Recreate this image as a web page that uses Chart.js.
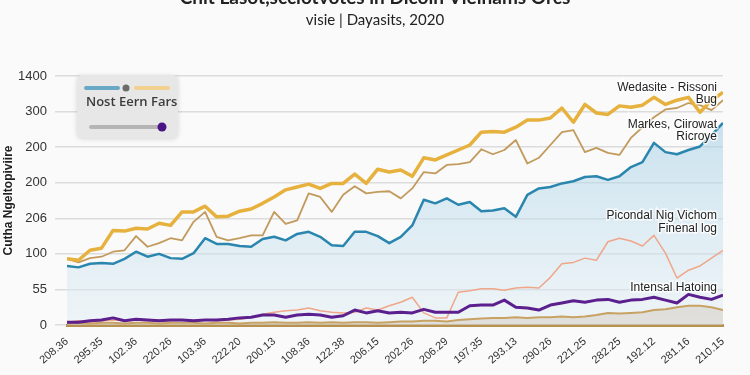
<!DOCTYPE html>
<html><head><meta charset="utf-8">
<script src="https://cdn.jsdelivr.net/npm/chart.js@4.4.1/dist/chart.umd.min.js"></script>
<style>html,body{margin:0;padding:0;background:#fafafa;}canvas{display:block;}</style>
</head><body>
<canvas id="c" width="750" height="375"></canvas>
<script>
const titleText = 'Chit Lasot,scciotvotes in Dicoin Vieinams Orcs';
const subtitleText = 'visie | Dayasits, 2020';
const yAxisTitle = 'Cutha Ngeltopiviire';
const legendText = 'Nost Eern Fars';
const xTickLabels = ['208.36','295.35','102.36','220.26','103.36','222.20','200.13','108.36','122.38','206.15',
                     '202.26','206.29','197.35','293.13','290.26','221.25','282.25','192.12','281.16','210.15'];
const yTickLabels = ['0','55','100','206','200','200','300','1400'];

const websiteBug = [93,91,105,108,133,132,136,135,143,140,159,159,167,152,153,160,163,171,180,190,194,198,192,199,199,212,199,219,215,218,209,235,232,239,246,253,271,272,271,278,288,288,291,305,285,310,298,296,308,306,309,320,310,316,320,299,316,327];
const marketsGrowth = [93,88,94,96,103,105,125,110,115,122,119,145,159,124,119,122,126,126,159,142,147,185,180,159,183,195,185,187,188,178,192,215,213,225,226,229,247,240,246,260,227,235,253,271,274,243,249,242,239,263,278,292,303,305,312,309,302,316];
const blueSeries = [83,81,86,87,86,93,103,96,100,94,93,101,122,114,114,111,110,121,124,119,128,131,124,112,111,131,131,125,115,124,140,176,171,178,169,173,160,161,164,152,183,192,194,199,202,208,209,204,209,222,229,256,243,240,246,251,267,284];
const financialLog = [4,6,4,6,7,6,7,6,7,6,7,6,7,6,7,8,11,15,18,20,21,24,20,18,17,18,24,21,27,32,39,17,10,10,46,48,51,51,49,52,53,52,67,86,88,94,91,117,122,118,111,126,101,66,77,83,94,105];
const internalHatoing = [4,4,6,7,10,6,8,7,6,7,7,6,7,7,8,10,11,14,14,11,14,15,14,11,13,21,17,20,17,18,17,22,18,18,18,27,28,28,35,25,24,21,28,31,34,32,35,36,32,35,36,39,35,31,43,39,36,42];
const baseSeries = [2,3,2,3,3,2,3,3,2,3,3,3,2,3,3,2,3,3,4,3,3,4,3,4,3,4,4,3,4,5,5,6,6,5,7,8,9,10,10,11,10,11,11,12,11,12,14,17,16,17,18,21,22,25,27,27,25,21];

const annotations = [
  {lines: ['Wedasite - Rissoni', 'Bug'], value: 334},
  {lines: ['Markes, Ciirowat', 'Ricroye'], value: 282},
  {lines: ['Picondal Nig Vichom', 'Finenal log'], value: 153},
  {lines: ['Intensal Hatoing'], value: 53}
];

const toPts = arr => arr.map((v, i) => ({x: i, y: v}));

const overlay = {
  id: 'overlay',
  afterDraw(chart) {
    const {ctx, chartArea: a, scales: {y}} = chart;
    ctx.save();
    ctx.font = '12px "Liberation Sans", Arial, sans-serif';
    ctx.textAlign = 'right';
    ctx.textBaseline = 'middle';
    annotations.forEach(an => {
      const py = y.getPixelForValue(an.value);
      an.lines.forEach((t, k) => {
        const ty = py + k * 12.5;
        ctx.lineWidth = 3; ctx.strokeStyle = 'rgba(255,255,255,0.75)';
        ctx.strokeText(t, a.right - 6, ty);
        ctx.fillStyle = '#222';
        ctx.fillText(t, a.right - 6, ty);
      });
    });
    // legend box
    const bx = a.left + 10, by = a.top - 1;
    ctx.shadowColor = 'rgba(0,0,0,0.15)'; ctx.shadowBlur = 5; ctx.shadowOffsetY = 1;
    ctx.fillStyle = '#e7e7e7';
    ctx.beginPath(); ctx.roundRect(bx, by, 101, 63, 5); ctx.fill();
    ctx.shadowColor = 'transparent'; ctx.shadowBlur = 0; ctx.shadowOffsetY = 0;
    ctx.lineCap = 'round';
    ctx.lineWidth = 4;
    ctx.strokeStyle = '#6aa9c6';
    ctx.beginPath(); ctx.moveTo(bx + 9, by + 13); ctx.lineTo(bx + 41, by + 13); ctx.stroke();
    ctx.strokeStyle = '#f2d08f';
    ctx.beginPath(); ctx.moveTo(bx + 59, by + 13); ctx.lineTo(bx + 91, by + 13); ctx.stroke();
    ctx.fillStyle = '#6b6b6b';
    ctx.beginPath(); ctx.arc(bx + 49, by + 13, 3.5, 0, Math.PI * 2); ctx.fill();
    ctx.font = '600 13px "Open Sans", sans-serif';
    ctx.textAlign = 'left';
    ctx.fillStyle = '#3c3c3c';
    ctx.fillText(legendText, bx + 9, by + 27);
    ctx.strokeStyle = '#b5b5b5';
    ctx.beginPath(); ctx.moveTo(bx + 14, by + 52); ctx.lineTo(bx + 84, by + 52); ctx.stroke();
    ctx.fillStyle = '#4a1486';
    ctx.beginPath(); ctx.arc(bx + 85, by + 52, 4.5, 0, Math.PI * 2); ctx.fill();
    ctx.restore();
  }
};

const blueFill = (c) => {
  const a = c.chart.chartArea;
  if (!a) return 'rgba(200,225,238,0.5)';
  const g = c.chart.ctx.createLinearGradient(0, a.top, 0, a.bottom);
  g.addColorStop(0, 'rgba(150,200,225,0.6)');
  g.addColorStop(1, 'rgba(225,238,245,0.45)');
  return g;
};

new Chart(document.getElementById('c'), {
  type: 'line',
  data: {
    datasets: [
      {label: 'Wedasite - Rissoni Bug', data: toPts(websiteBug), borderColor: '#e6b13c', borderWidth: 3.5, fill: false},
      {label: 'Markes, Ciirowat Ricroye', data: toPts(marketsGrowth), borderColor: '#c29a5c', borderWidth: 1.8, fill: false},
      {label: 'Intensal Hatoing', data: toPts(internalHatoing), borderColor: '#5b1f8e', borderWidth: 3, fill: false},
      {label: 'Picondal Nig Vichom Finenal log', data: toPts(financialLog), borderColor: '#efa689', borderWidth: 1.5, fill: false},
      {label: 'Base', data: toPts(baseSeries), borderColor: '#c8a263', borderWidth: 2, fill: 'origin', backgroundColor: 'rgba(200,190,175,0.4)'},
      {label: 'Blue', data: toPts(blueSeries), borderColor: '#2a86ae', borderWidth: 2.5, fill: 'origin', backgroundColor: blueFill}
    ]
  },
  options: {
    responsive: false,
    animation: false,
    elements: {point: {radius: 0}, line: {tension: 0, borderJoinStyle: 'round'}},
    layout: {padding: 0},
    plugins: {
      legend: {display: false},
      tooltip: {enabled: false},
      title: {display: true, text: titleText, color: '#222', font: {family: 'Lato', size: 19, weight: 'bold'}, padding: {top: -13.6, bottom: 0}},
      subtitle: {display: true, text: subtitleText, color: '#222', font: {family: 'Lato', size: 15}, padding: {top: 1.8, bottom: 47}}
    },
    scales: {
      x: {
        type: 'linear', min: 0, max: 57,
        afterFit: s => { s.height = 50; },
        grid: {display: false},
        border: {display: true, color: '#b8914f', width: 3},
        ticks: {stepSize: 3, autoSkip: false, minRotation: 40, maxRotation: 40, padding: 2,
                color: '#333', font: {family: 'Liberation Sans', size: 11},
                callback: v => xTickLabels[Math.round(v / 3)] ?? ''}
      },
      y: {
        min: 0, max: 350,
        afterFit: s => { s.width = 67; },
        border: {display: false},
        grid: {color: c => c.tick && c.tick.value === 0 ? 'transparent' : '#dcdcdc', tickColor: '#dcdcdc', lineWidth: 1.5, tickLength: 12},
        ticks: {stepSize: 50, padding: 8, color: '#333', font: {family: 'Liberation Sans', size: 13},
                callback: v => yTickLabels[Math.round(v / 50)]},
        title: {display: true, text: yAxisTitle, color: '#222', font: {family: 'Liberation Sans', size: 12, weight: 'bold'}, padding: {top: 1, bottom: 0}}
      },
      yRight: {
        position: 'right', min: 0, max: 350,
        afterFit: s => { s.width = 27; },
        grid: {display: false, drawOnChartArea: false},
        border: {display: false},
        ticks: {display: false}
      }
    }
  },
  plugins: [overlay]
});
</script>
</body></html>
